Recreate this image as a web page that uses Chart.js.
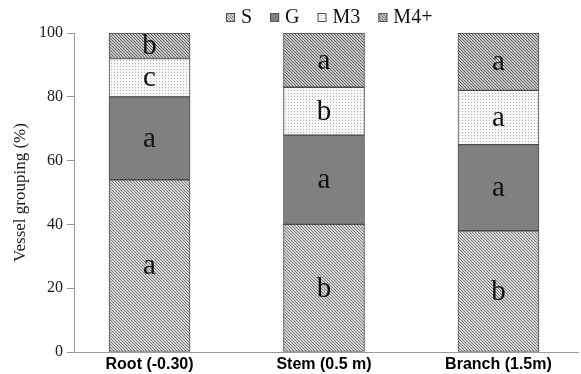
<html>
<head>
<script src="https://cdn.jsdelivr.net/npm/chart.js"></script>
<style>
  html, body { margin: 0; padding: 0; background: #fff; }
  #wrap { width: 581px; height: 374px; }
</style>
</head>
<body>
<div id="wrap"><canvas id="chart"></canvas></div>
<script>
// data
const categories = ['Root (-0.30)', 'Stem (0.5 m)', 'Branch (1.5m)'];
const seriesNames = ['S', 'G', 'M3', 'M4+'];
const sValues = [54, 40, 38];
const gValues = [26, 28, 27];
const m3Values = [12, 15, 17];
const m4Values = [8, 17, 18];
const sLetters = ['a', 'b', 'b'];
const gLetters = ['a', 'a', 'a'];
const m3Letters = ['c', 'b', 'a'];
const m4Letters = ['b', 'a', 'a'];
const yTicks = [0, 20, 40, 60, 80, 100];

// fill patterns
function makePattern(size, bg, fg, isOn) {
  const c = document.createElement('canvas');
  c.width = size; c.height = size;
  const g = c.getContext('2d');
  g.fillStyle = bg; g.fillRect(0, 0, size, size);
  g.fillStyle = fg;
  for (let x = 0; x < size; x++)
    for (let y = 0; y < size; y++)
      if (isOn(x, y)) g.fillRect(x, y, 1, 1);
  return g.createPattern(c, 'repeat');
}
const ctx = document.getElementById('chart').getContext('2d');
const patS = makePattern(3, '#d4d4d4', '#7c7c7c', (x, y) => ((x - y + 6) % 3) === 0);
const patM4 = makePattern(3, '#c6c6c6', '#666666', (x, y) => ((x - y + 6) % 3) === 0);
const patM3 = makePattern(3, '#f6f6f6', '#b8b8b8', (x, y) => x === 0 && y === 0);
const fills = [patS, '#808080', patM3, patM4];
const allValues = [sValues, gValues, m3Values, m4Values];
const allLetters = [sLetters, gLetters, m3Letters, m4Letters];

const datasets = seriesNames.map((name, i) => ({
  label: name,
  data: allValues[i].map((v, j) => ({ x: j, y: v })),
  backgroundColor: fills[i],
  borderColor: '#4a4a4a',
  borderWidth: 1,
  borderSkipped: false,
  barThickness: 81
}));

// letters in the middle of each segment
const letterPlugin = {
  id: 'letters',
  afterDatasetsDraw(chart) {
    const c = chart.ctx;
    c.save();
    c.font = '29px "Liberation Serif"';
    c.fillStyle = '#111';
    c.textAlign = 'center';
    c.textBaseline = 'middle';
    chart.data.datasets.forEach((ds, i) => {
      chart.getDatasetMeta(i).data.forEach((bar, j) => {
        c.fillText(allLetters[i][j], bar.x, (bar.y + bar.base) / 2 + 1);
      });
    });
    c.restore();
  }
};

// legend across the top
const legendPlugin = {
  id: 'topLegend',
  afterDraw(chart) {
    const c = chart.ctx;
    c.save();
    c.font = '20px "Liberation Serif"';
    c.textBaseline = 'alphabetic';
    let x = 226;
    seriesNames.forEach((name, i) => {
      c.fillStyle = fills[i];
      c.fillRect(x, 13, 9, 9);
      c.strokeStyle = '#555';
      c.lineWidth = 1;
      c.strokeRect(x + 0.5, 13.5, 8, 8);
      x += 15;
      c.fillStyle = '#111';
      c.fillText(name, x, 23);
      x += c.measureText(name).width + 18;
    });
    c.restore();
  }
};

new Chart(ctx, {
  type: 'bar',
  data: { datasets },
  options: {
    responsive: true,
    maintainAspectRatio: false,
    animation: false,
    layout: { padding: { top: 33, right: 3, left: 0, bottom: 0 } },
    plugins: { legend: { display: false }, tooltip: { enabled: false } },
    scales: {
      x: {
        type: 'linear',
        stacked: true,
        offset: false,
        min: -0.433,
        max: 2.456,
        afterBuildTicks: s => { s.ticks = categories.map((c, j) => ({ value: j })); },
        afterFit: s => { s.height = 22; },
        ticks: {
          callback: v => categories[v],
          font: { family: 'Liberation Sans', size: 16, weight: 'bold' },
          color: '#000',
          padding: 3,
          maxRotation: 0
        },
        grid: { display: false, drawTicks: false },
        border: { display: true, color: '#9a9a9a', width: 1 }
      },
      y: {
        stacked: true,
        min: 0,
        max: 100,
        afterBuildTicks: s => { s.ticks = yTicks.map(v => ({ value: v })); },
        afterFit: s => { s.width = 74; },
        ticks: {
          font: { family: 'Liberation Serif', size: 16 },
          color: '#1a1a1a',
          padding: 4
        },
        grid: { drawOnChartArea: false, tickLength: 7, color: '#9a9a9a' },
        border: { display: true, color: '#9a9a9a', width: 1 },
        title: {
          display: true,
          text: 'Vessel grouping (%)',
          font: { family: 'Liberation Serif', size: 17 },
          color: '#1a1a1a',
          padding: { top: 10, bottom: 4 }
        }
      }
    }
  },
  plugins: [letterPlugin, legendPlugin]
});
</script>
</body>
</html>
